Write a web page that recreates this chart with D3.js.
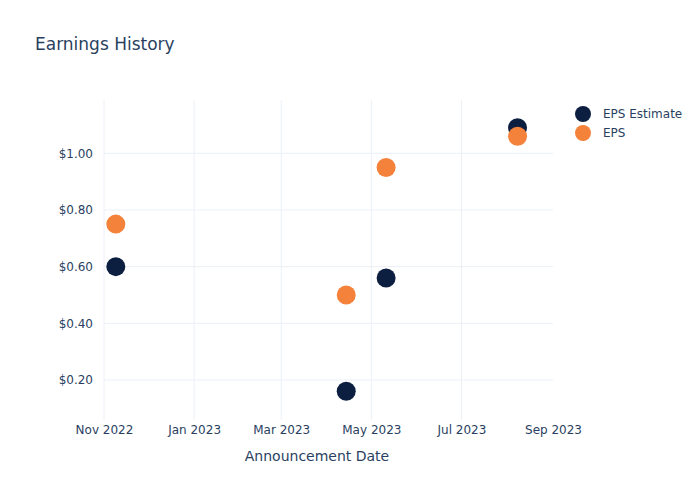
<!DOCTYPE html>
<html>
<head>
<meta charset="utf-8">
<script src="https://cdn.jsdelivr.net/npm/d3@7"></script>
<style>
  body { margin: 0; background: #fff; }
  text { font-family: "DejaVu Sans", sans-serif; fill: #2a3f5f; }
</style>
</head>
<body>
<svg id="chart"></svg>
<script>
// values
var dates = ["2022-11-09", "2023-04-14", "2023-05-11", "2023-08-08"];
var epsEstimate = [0.60, 0.16, 0.56, 1.09];
var eps = [0.75, 0.50, 0.95, 1.06];
var yTicks = [0.2, 0.4, 0.6, 0.8, 1.0];
var seriesNames = ["EPS Estimate", "EPS"];
var seriesColors = ["#0c1f40", "#f5823a"];

var width = 700, height = 500;
var margin = { left: 104, right: 147, top: 100, bottom: 80 };

var parse = d3.timeParse("%Y-%m-%d");

var svg = d3.select("#chart")
    .attr("width", width)
    .attr("height", height);

var x = d3.scaleTime()
    .domain([parse("2022-11-01"), parse("2023-09-01")])
    .range([margin.left, width - margin.right]);

var y = d3.scaleLinear()
    .domain([0.0588, 1.188])
    .range([height - margin.bottom, margin.top]);

// grid
var xTicks = x.ticks(d3.timeMonth.every(2));

svg.append("g")
    .selectAll("line")
    .data(xTicks.slice(0, -1))   // no line on the right edge
    .join("line")
    .attr("x1", d => x(d)).attr("x2", d => x(d))
    .attr("y1", margin.top).attr("y2", height - margin.bottom)
    .attr("stroke", "#ebf0f8")
    .attr("stroke-width", 1);

svg.append("g")
    .selectAll("line")
    .data(yTicks)
    .join("line")
    .attr("x1", margin.left).attr("x2", width - margin.right)
    .attr("y1", d => y(d)).attr("y2", d => y(d))
    .attr("stroke", "#ebf0f8")
    .attr("stroke-width", 1);

// axes (labels only, plotly style)
var xAxis = svg.append("g")
    .attr("transform", "translate(0," + (height - margin.bottom) + ")")
    .call(d3.axisBottom(x).tickValues(xTicks).tickFormat(d3.timeFormat("%b %Y")).tickSize(0).tickPadding(5));
xAxis.select(".domain").remove();
xAxis.selectAll("text").style("font-size", "12px").attr("fill", "#2a3f5f");

var yAxis = svg.append("g")
    .attr("transform", "translate(" + margin.left + ",0)")
    .call(d3.axisLeft(y).tickValues(yTicks).tickFormat(d => "$" + d.toFixed(2)).tickSize(0).tickPadding(11));
yAxis.select(".domain").remove();
yAxis.selectAll("text").style("font-size", "12px").attr("fill", "#2a3f5f");

// points
var series = [epsEstimate, eps];
series.forEach(function (vals, i) {
    svg.append("g")
        .selectAll("circle")
        .data(vals)
        .join("circle")
        .attr("cx", (d, j) => x(parse(dates[j])))
        .attr("cy", d => y(d))
        .attr("r", 9.5)
        .attr("fill", seriesColors[i]);
});

// title
svg.append("text")
    .attr("x", 35).attr("y", 50)
    .style("font-size", "17px")
    .text("Earnings History");

// x axis title
svg.append("text")
    .attr("x", 317)
    .attr("y", 461)
    .attr("text-anchor", "middle")
    .style("font-size", "14px")
    .text("Announcement Date");

// legend
var legend = svg.append("g")
    .selectAll("g")
    .data(seriesNames)
    .join("g")
    .attr("transform", (d, i) => "translate(583," + (114 + i * 19) + ")");

legend.append("circle")
    .attr("r", 8)
    .attr("fill", (d, i) => seriesColors[i]);

legend.append("text")
    .attr("x", 20)
    .attr("dy", "0.35em")
    .style("font-size", "12px")
    .text(d => d);
</script>
</body>
</html>
